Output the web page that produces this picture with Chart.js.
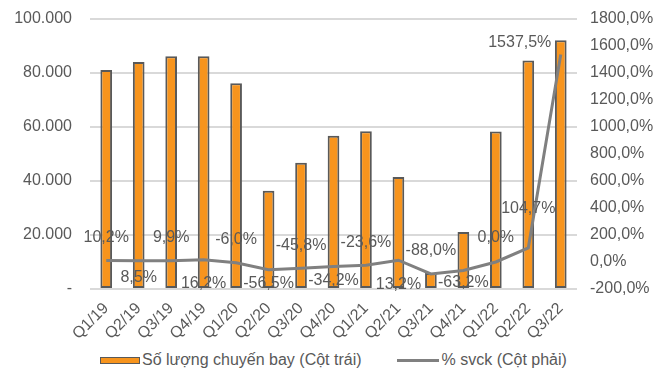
<!DOCTYPE html>
<html>
<head>
<meta charset="utf-8">
<script src="https://cdn.jsdelivr.net/npm/chart.js@4/dist/chart.umd.min.js"></script>
<style>
  html, body { margin: 0; padding: 0; background: #fff; }
  #wrap { width: 664px; height: 376px; position: relative; }
  #legend {
    position: absolute; left: 100px; top: 350px; height: 20px;
    display: flex; align-items: center;
    font: 16px 'Liberation Sans', Arial, sans-serif; color: #595959; white-space: nowrap;
  }
  #legend .bar { width: 38px; height: 5px; background: #F7941D; border: 1px solid #595959; margin-right: 2px; }
  #legend .line { width: 42px; height: 3px; background: #808080; margin-left: 35px; margin-right: 3px; }
</style>
</head>
<body>
<div id="wrap">
  <canvas id="flightChart" width="664" height="340"></canvas>
  <div id="legend"><span class="bar"></span><span>Số lượng chuyến bay (Cột trái)</span><span class="line"></span><span>% svck (Cột phải)</span></div>
</div>
<script>
// Quarterly flights (left axis) and year-on-year change in % (right axis)
const quarters = ['Q1/19', 'Q2/19', 'Q3/19', 'Q4/19', 'Q1/20', 'Q2/20', 'Q3/20', 'Q4/20',
                  'Q1/21', 'Q2/21', 'Q3/21', 'Q4/21', 'Q1/22', 'Q2/22', 'Q3/22'];
const flights = [81100, 84100, 86200, 86200, 76200, 36400, 46800, 56800,
                 58400, 41500, 5900, 21100, 58300, 84600, 92100];
const yoyChange = [10.2, 8.5, 9.9, 16.2, -6.0, -56.5, -45.8, -34.2,
                   -23.6, 13.2, -88.0, -63.2, 0.0, 104.7, 1537.5];

// where each % label sits relative to its point (dx, dy in px)
const labelOffsets = [[0, -23], [0, 17], [0, -23], [0, 24], [0, -23], [0, 14], [0, -23], [0, 14],
                      [0, -23], [0, 24], [0, -23], [0, 12], [0, -24], [0, -39], [-41, -12]];

const TEXT = '#595959';
const FONT = "'Liberation Sans', Arial, sans-serif";

function fmtThousands(v) {
    if (v === 0) return '-';
    return String(v).replace(/\B(?=(\d{3})+(?!\d))/g, '.');
}
function fmtPct(v) {
    return v.toFixed(1).replace('.', ',') + '%';
}

// draws the % values next to the line points
const pctLabels = {
    id: 'pctLabels',
    afterDatasetsDraw(chart) {
        const meta = chart.getDatasetMeta(1);
        const ctx = chart.ctx;
        ctx.save();
        ctx.font = '16px ' + FONT;
        ctx.fillStyle = TEXT;
        ctx.textAlign = 'center';
        ctx.textBaseline = 'middle';
        meta.data.forEach((pt, i) => {
            const off = labelOffsets[i];
            ctx.fillText(fmtPct(yoyChange[i]), pt.x + off[0], pt.y + off[1]);
        });
        ctx.restore();
    }
};

Chart.defaults.font.family = FONT;
Chart.defaults.font.size = 16;
Chart.defaults.color = TEXT;

new Chart(document.getElementById('flightChart'), {
    type: 'bar',
    data: {
        labels: quarters,
        datasets: [{
            type: 'bar',
            label: 'Số lượng chuyến bay (Cột trái)',
            data: flights,
            backgroundColor: '#F7941D',
            borderColor: '#595959',
            borderWidth: 2,
            borderSkipped: false,
            categoryPercentage: 1,
            barPercentage: 0.36,
            yAxisID: 'y',
            order: 1
        }, {
            type: 'line',
            label: '% svck (Cột phải)',
            data: yoyChange,
            borderColor: '#808080',
            backgroundColor: '#808080',
            borderWidth: 3,
            pointRadius: 0,
            tension: 0,
            yAxisID: 'y1',
            order: 0
        }]
    },
    options: {
        responsive: false,
        animation: false,
        layout: { padding: { top: 19, left: 0, right: 0, bottom: 0 } },
        plugins: {
            tooltip: { enabled: false },
            legend: { display: false }
        },
        scales: {
            x: {
                grid: { display: false },
                border: { display: false },
                ticks: { minRotation: 45, maxRotation: 45, padding: 2, color: TEXT },
                afterFit(scale) { scale.height = 51; }
            },
            y: {
                position: 'left',
                min: 0,
                max: 100000,
                ticks: { stepSize: 20000, padding: 0, callback: v => fmtThousands(v) },
                grid: { color: '#d9d9d9', lineWidth: 2, drawTicks: true, tickLength: 18, tickColor: 'rgba(0,0,0,0)' },
                border: { display: false },
                afterFit(scale) { scale.width = 90; }
            },
            y1: {
                position: 'right',
                min: -200,
                max: 1800,
                ticks: { stepSize: 200, padding: 0, callback: v => fmtPct(v) },
                grid: { display: false, drawTicks: true, tickLength: 13 },
                border: { display: false },
                afterFit(scale) { scale.width = 87; }
            }
        }
    },
    plugins: [pctLabels]
});
</script>
</body>
</html>
